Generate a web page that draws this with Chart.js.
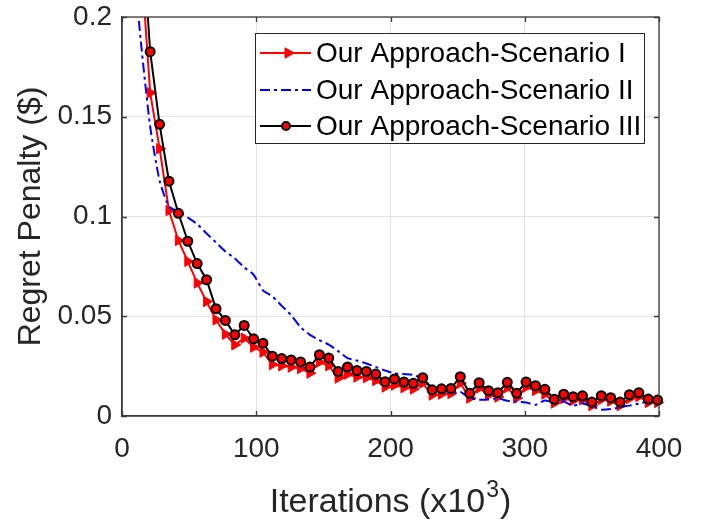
<!DOCTYPE html>
<html>
<head>
<meta charset="utf-8">
<script src="https://cdn.jsdelivr.net/npm/chart.js@4.4.1/dist/chart.umd.min.js"></script>
<style>
  html, body { margin: 0; padding: 0; background: #fff; }
  #wrap { width: 707px; height: 521px; }
</style>
</head>
<body>
<div id="wrap"><canvas id="regret" width="707" height="521"></canvas></div>
<script>
// iterations in thousands
const iterations = [7, 14, 21, 28, 35, 42, 49, 56, 63, 70, 77, 84, 91, 98, 105, 112, 119, 126, 133, 140,
    147, 154, 161, 168, 175, 182, 189, 196, 203, 210, 217, 224, 231, 238, 245, 252, 259, 266, 273, 280,
    287, 294, 301, 308, 315, 322, 329, 336, 343, 350, 357, 364, 371, 378, 385, 392, 399];

const scenario1 = [0.33, 0.230, 0.162, 0.134, 0.103, 0.088, 0.0775, 0.0667, 0.0574, 0.0482, 0.041, 0.0357, 0.039, 0.0345, 0.032, 0.0258, 0.0252, 0.0245, 0.0238, 0.0215,
    0.027, 0.0252, 0.019, 0.021, 0.0195, 0.0192, 0.0178, 0.0145, 0.0155, 0.0142, 0.0135, 0.0165, 0.0105, 0.011, 0.0113, 0.0165, 0.009, 0.014, 0.0105, 0.0095,
    0.0142, 0.009, 0.0145, 0.0128, 0.011, 0.0065, 0.0088, 0.0078, 0.0082, 0.0052, 0.0083, 0.0075, 0.0052, 0.0088, 0.0098, 0.0068, 0.0068];

const scenario2 = [0.24, 0.188, 0.145, 0.118, 0.105, 0.1025, 0.0995, 0.0962, 0.0915, 0.087, 0.0825, 0.079, 0.0745, 0.0709, 0.063, 0.060, 0.0552, 0.0505, 0.0445, 0.0407,
    0.038, 0.0358, 0.0325, 0.029, 0.0278, 0.0263, 0.0246, 0.0228, 0.0213, 0.021, 0.0206, 0.0185, 0.0143, 0.0132, 0.0117, 0.0121, 0.009, 0.0082, 0.0083, 0.0088,
    0.0076, 0.0072, 0.0068, 0.0056, 0.0078, 0.0067, 0.0072, 0.0052, 0.0063, 0.0048, 0.0032, 0.0035, 0.0044, 0.0052, 0.0062, 0.0073, 0.008];

const scenario3 = [0.36, 0.252, 0.1826, 0.1462, 0.1177, 0.1016, 0.0876, 0.0764, 0.0683, 0.0538, 0.0479, 0.0407, 0.0454, 0.0387, 0.0365, 0.0300, 0.0288, 0.0281, 0.0271, 0.0245,
    0.0307, 0.0291, 0.0223, 0.0246, 0.0228, 0.0223, 0.0210, 0.0172, 0.0186, 0.0171, 0.0164, 0.0192, 0.0131, 0.0136, 0.0138, 0.0197, 0.0114, 0.0167, 0.0127, 0.0117,
    0.0169, 0.0114, 0.0171, 0.0152, 0.0134, 0.0084, 0.0109, 0.0097, 0.0101, 0.0070, 0.0102, 0.0092, 0.0070, 0.0107, 0.0117, 0.0085, 0.0080];

const seriesNames = ['Our Approach-Scenario I', 'Our Approach-Scenario II', 'Our Approach-Scenario III'];
const xTicks = [0, 100, 200, 300, 400];
const yTicks = [0, 0.05, 0.1, 0.15, 0.2];
const xTitle = ['Iterations (x10', '3', ')'];

const FONT = '"Liberation Sans", Arial, Helvetica, sans-serif';
const axisColor = '#3a3a3a';
const gridColor = '#e2e2e2';
const textColor = '#262626';

const toPoints = (values) => iterations.map((x, i) => ({x: x, y: values[i]}));
const clipArea = {left: 6, top: 0, right: 8, bottom: 6};

// box round the axes with inward ticks, as MATLAB draws it
const axesBox = {
    id: 'axesBox',
    afterDraw(chart) {
        const {ctx, chartArea: a, scales} = chart;
        const tick = 5;
        ctx.save();
        ctx.strokeStyle = axisColor;
        ctx.lineWidth = 1.3;
        ctx.strokeRect(a.left, a.top, a.right - a.left, a.bottom - a.top);
        ctx.beginPath();
        xTicks.forEach((v) => {
            const px = Math.round(scales.x.getPixelForValue(v)) + 0.5;
            ctx.moveTo(px, a.bottom); ctx.lineTo(px, a.bottom - tick);
            ctx.moveTo(px, a.top); ctx.lineTo(px, a.top + tick);
        });
        yTicks.forEach((v) => {
            const py = Math.round(scales.y.getPixelForValue(v)) + 0.5;
            ctx.moveTo(a.left, py); ctx.lineTo(a.left + tick, py);
            ctx.moveTo(a.right, py); ctx.lineTo(a.right - tick, py);
        });
        ctx.stroke();

        // x axis title with a real superscript
        const big = '34px ' + FONT;
        const small = '23px ' + FONT;
        ctx.fillStyle = textColor;
        ctx.textBaseline = 'alphabetic';
        ctx.textAlign = 'left';
        ctx.font = big;
        const w1 = ctx.measureText(xTitle[0]).width;
        const w3 = ctx.measureText(xTitle[2]).width;
        ctx.font = small;
        const w2 = ctx.measureText(xTitle[1]).width;
        const cx = (a.left + a.right) / 2;
        let tx = cx - (w1 + w2 + w3 + 2) / 2;
        const base = 512;
        ctx.font = big;
        ctx.fillText(xTitle[0], tx, base);
        tx += w1 + 1;
        ctx.font = small;
        ctx.fillText(xTitle[1], tx, base - 15);
        tx += w2 + 1;
        ctx.font = big;
        ctx.fillText(xTitle[2], tx, base);
        ctx.restore();
    }
};

// legend box inside the axes (top right)
const boxLegend = {
    id: 'boxLegend',
    afterDraw(chart) {
        const ctx = chart.ctx;
        const box = {left: 255, top: 33, right: 644, bottom: 143};
        const rows = [53, 90, 126];
        ctx.save();
        ctx.fillStyle = '#fff';
        ctx.fillRect(box.left, box.top, box.right - box.left, box.bottom - box.top);
        ctx.strokeStyle = '#262626';
        ctx.lineWidth = 1;
        ctx.strokeRect(box.left + 0.5, box.top + 0.5, box.right - box.left, box.bottom - box.top);

        chart.data.datasets.forEach((ds, i) => {
            const y = rows[i];
            ctx.save();
            ctx.strokeStyle = ds.borderColor;
            ctx.lineWidth = ds.borderWidth;
            ctx.setLineDash(ds.borderDash || []);
            ctx.beginPath();
            ctx.moveTo(260, y);
            ctx.lineTo(311, y);
            ctx.stroke();
            ctx.restore();
            if (ds.pointRadius > 0) {
                ctx.fillStyle = ds.pointBackgroundColor;
                ctx.strokeStyle = ds.pointBorderColor;
                ctx.lineWidth = ds.pointBorderWidth;
                ctx.beginPath();
                if (ds.pointStyle === 'circle') {
                    ctx.arc(286, y, ds.pointRadius - 0.5, 0, Math.PI * 2);
                } else {
                    const r = ds.pointRadius;
                    ctx.moveTo(288 + r, y);
                    ctx.lineTo(288 - r * 0.5, y - r * 0.87);
                    ctx.lineTo(288 - r * 0.5, y + r * 0.87);
                    ctx.closePath();
                }
                ctx.fill();
                ctx.stroke();
            }
            ctx.fillStyle = '#000';
            ctx.font = '28px ' + FONT;
            ctx.textBaseline = 'middle';
            ctx.textAlign = 'left';
            ctx.fillText(seriesNames[i], 316, y + 1);
        });
        ctx.restore();
    }
};

new Chart(document.getElementById('regret'), {
    type: 'line',
    data: {
        datasets: [{
            label: seriesNames[0],
            data: toPoints(scenario1),
            borderColor: '#ff0000',
            borderWidth: 2,
            pointStyle: 'triangle',
            pointRotation: 90,
            pointRadius: 6,
            pointBackgroundColor: '#ff0000',
            pointBorderColor: '#ff0000',
            pointBorderWidth: 1,
            tension: 0,
            clip: clipArea,
            order: 3,
        }, {
            label: seriesNames[1],
            data: toPoints(scenario2),
            borderColor: '#0000ff',
            borderWidth: 2,
            borderDash: [10, 4, 3, 4],
            pointRadius: 0,
            tension: 0.2,
            clip: clipArea,
            order: 2,
        }, {
            label: seriesNames[2],
            data: toPoints(scenario3),
            borderColor: '#000000',
            borderWidth: 2,
            pointStyle: 'circle',
            pointRadius: 4.5,
            pointBackgroundColor: '#ff0000',
            pointBorderColor: '#000000',
            pointBorderWidth: 2,
            tension: 0,
            clip: clipArea,
            order: 1,
        }],
    },
    options: {
        responsive: false,
        devicePixelRatio: 1,
        animation: false,
        layout: {
            padding: {left: 0, top: 17, right: 48, bottom: 0},
        },
        scales: {
            x: {
                type: 'linear',
                min: 0,
                max: 400,
                afterBuildTicks: (s) => { s.ticks = xTicks.map((v) => ({value: v})); },
                afterFit: (s) => { s.height = 105; s.paddingLeft = 0; s.paddingRight = 0; },
                grid: {color: gridColor, lineWidth: 1, drawTicks: false},
                border: {display: true, color: axisColor, width: 1.3},
                ticks: {
                    color: textColor,
                    font: {family: FONT, size: 28},
                    padding: 16,
                    maxRotation: 0,
                    callback: (v) => String(v),
                },
            },
            y: {
                min: 0,
                max: 0.2,
                afterBuildTicks: (s) => { s.ticks = yTicks.map((v) => ({value: v})); },
                afterFit: (s) => { s.width = 122; s.paddingTop = 0; s.paddingBottom = 0; },
                grid: {color: gridColor, lineWidth: 1, drawTicks: false},
                border: {display: true, color: axisColor, width: 1.3},
                ticks: {
                    color: textColor,
                    font: {family: FONT, size: 28},
                    padding: 10,
                    callback: (v) => String(v),
                },
                title: {
                    display: true,
                    text: 'Regret Penalty ($)',
                    color: textColor,
                    font: {family: FONT, size: 32},
                    padding: {top: 12, bottom: 2},
                },
            },
        },
        plugins: {
            legend: {display: false},
            tooltip: {enabled: false},
        },
    },
    plugins: [axesBox, boxLegend],
});
</script>
</body>
</html>
